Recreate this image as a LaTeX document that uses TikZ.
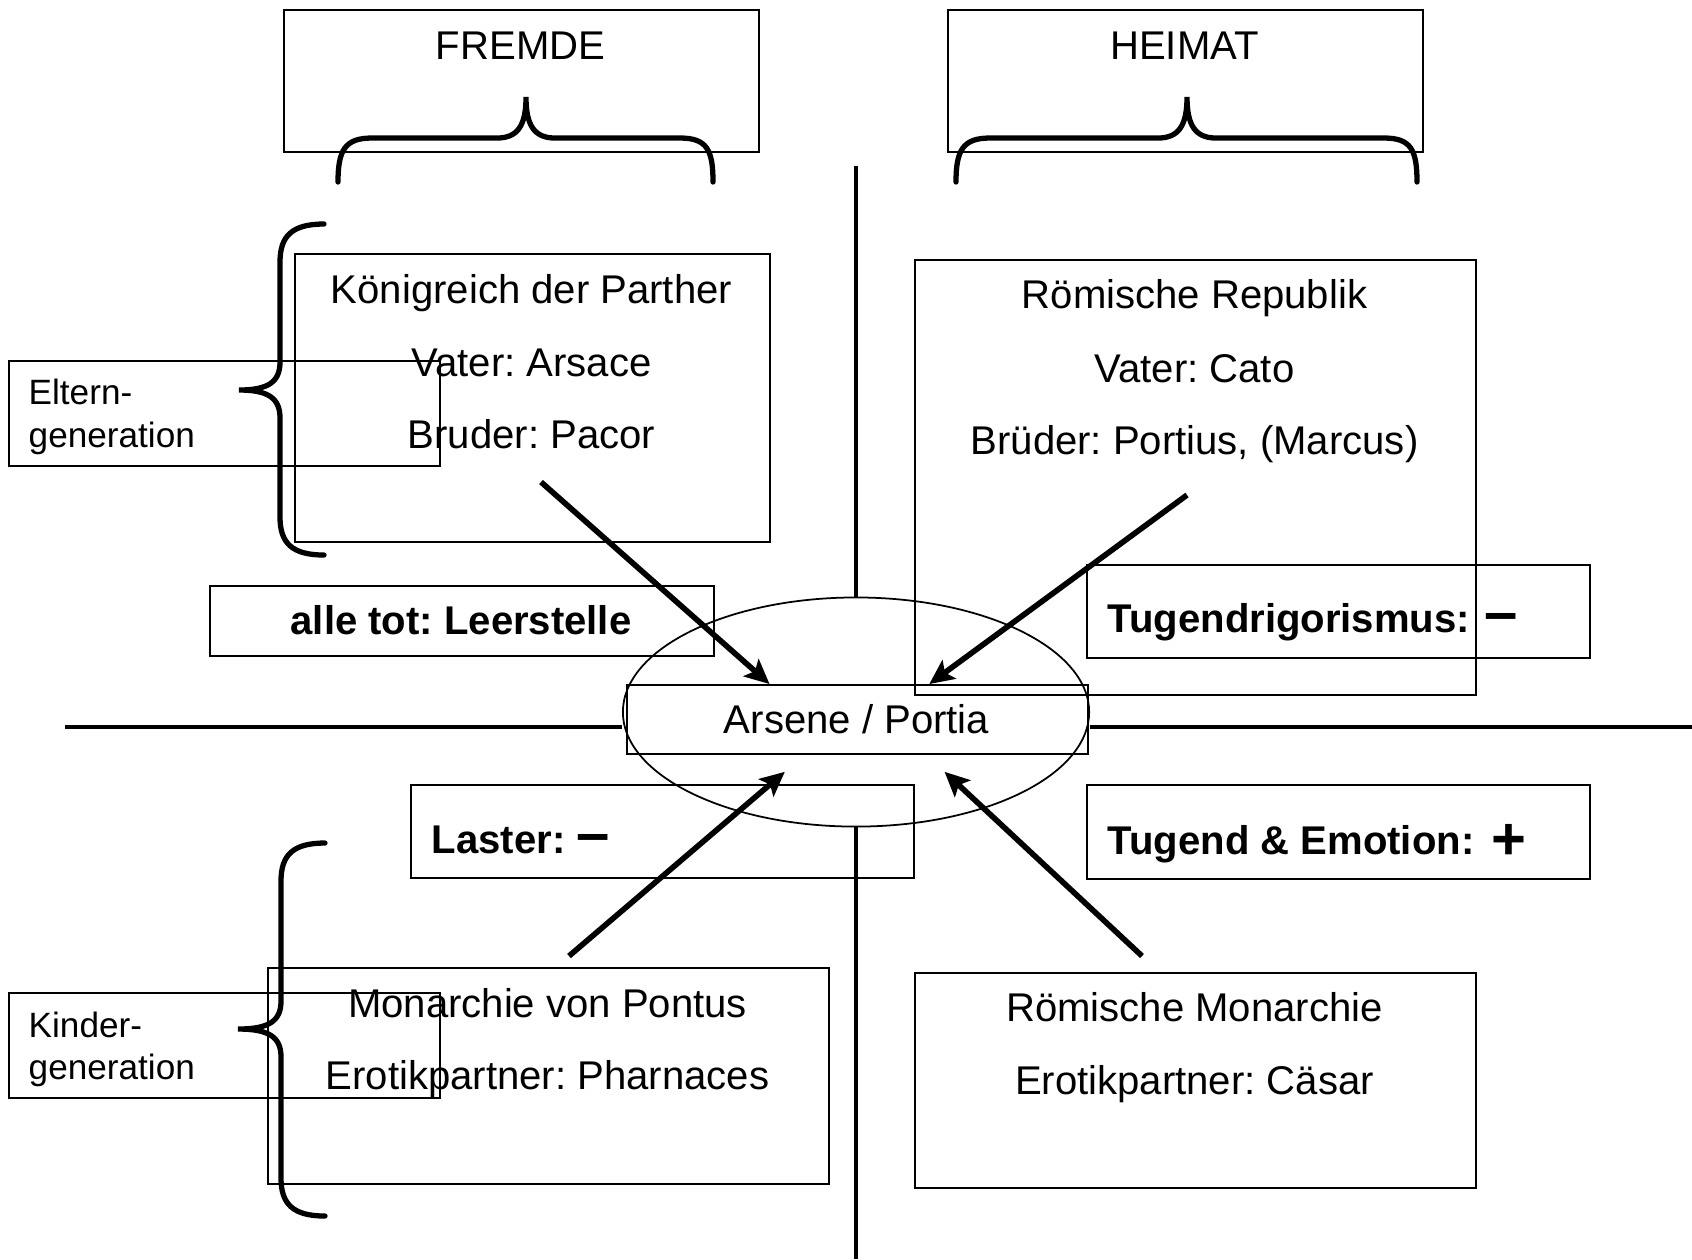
\documentclass[tikz,border=0pt]{standalone}
\usepackage{fontspec}
\setmainfont{Liberation Sans}
\usepackage{tikz}
\usetikzlibrary{shapes.geometric, arrows.meta, calc}
\frenchspacing
\newcommand{\normalfnt}{\fontsize{11.4}{13.7}\selectfont}
\newcommand{\smallfnt}{\fontsize{10}{12}\selectfont}
\newcommand{\symfnt}{\fontsize{17}{17}\selectfont}
\tikzset{
textbox/.style={draw, line width=0.5pt, inner sep=0pt, anchor=north west}, % the rectangles
words/.style={font=\normalfnt, inner sep=0pt, anchor=base}, % centred text lines
boldwords/.style={font=\normalfnt\bfseries, inner sep=0pt, anchor=base west}, % bold labels
smallwords/.style={font=\smallfnt, inner sep=0pt, anchor=base west}, % generation labels
axis/.style={line width=0.9pt},
curly/.style={line width=1.5pt, line cap=round},
arrowline/.style={line width=1.6pt, -{Stealth[length=7pt, width=6.5pt, inset=1.5pt]}},
}

\begin{document}
\begin{tikzpicture}[x=0.01cm, y=-0.01cm]
\useasboundingbox (0,0) rectangle (1692,1259);

% headings
\node[textbox, minimum width=4.75cm, minimum height=1.42cm] (fremde) at (283,9) {};
\node[words] (fremdetext) at (520.5,59) {FREMDE};
\node[textbox, minimum width=4.75cm, minimum height=1.42cm] (heimat) at (947,9) {};
\node[words] (heimattext) at (1184.5,59) {HEIMAT};
\draw[curly] (338,182) .. controls (338,150) and (345,138) .. (372,138) -- (497,138)
    .. controls (518,138) and (526,125) .. (526,97) .. controls (526,125) and (534,138) .. (555,138)
    -- (680,138) .. controls (707,138) and (713,150) .. (713,182);
\draw[curly] (956,182) .. controls (956,150) and (963,138) .. (990,138) -- (1158,138)
    .. controls (1179,138) and (1187,125) .. (1187,97) .. controls (1187,125) and (1195,138) .. (1216,138)
    -- (1384,138) .. controls (1411,138) and (1417,150) .. (1417,182);

% centre
\node[ellipse, draw, line width=0.5pt, minimum width=4.66cm, minimum height=2.29cm, inner sep=0pt] (ell) at (856,712) {};
\node[textbox, minimum width=4.61cm, minimum height=0.69cm] (arsene) at (626,684) {};
\node[words] (arsenetext) at (856.5,733) {Arsene / Portia};

% axes
\coordinate (hleft) at (65,727);
\coordinate (hright) at (1692,727);
\coordinate (vtop) at (856,166);
\coordinate (vbottom) at (856,1259);
\draw[axis] (hleft) -- (hleft -| ell.west);
\draw[axis] (hright -| ell.east) -- (hright);
\draw[axis] (vtop) -- (ell.north);
\draw[axis] (ell.south) -- (vbottom);

% upper left
\node[textbox, minimum width=4.75cm, minimum height=2.88cm] (kbox) at (294,253) {};
\node[words] (parther) at (531.5,303) {Königreich der Parther};
\node[words] (arsace) at (531.5,376) {Vater: Arsace};
\node[words] (pacor) at (531.5,448) {Bruder: Pacor};
\node[textbox, minimum width=4.31cm, minimum height=1.05cm] (eltern) at (8,360) {};
\node[smallwords] (elterntext) at (28,404) {Eltern-};
\node[smallwords] (elterngen) at (28,447) {generation};
\draw[curly] (324,224) .. controls (292,224) and (280,236) .. (280,262) -- (280,362)
    .. controls (280,382) and (268,390) .. (239,390) .. controls (268,390) and (280,398) .. (280,418)
    -- (280,517) .. controls (280,543) and (292,555) .. (324,555);
\node[textbox, minimum width=5.04cm, minimum height=0.70cm] (tot) at (209,585) {};
\node[boldwords, anchor=base] (leerstelle) at (461,634) {alle tot: Leerstelle};

% upper right
\node[textbox, minimum width=5.61cm, minimum height=4.35cm] (rbox) at (914,259) {};
\node[words] (republik) at (1194.5,308) {Römische Republik};
\node[words] (cato) at (1194.5,382) {Vater: Cato};
\node[words] (portius) at (1194.5,454) {Brüder: Portius, (Marcus)};
\node[textbox, minimum width=5.03cm, minimum height=0.93cm] (rigor) at (1086,564) {};
\node[boldwords] (rigortext) at (1107,632) {Tugendrigorismus: \hspace{0.03cm}{\symfnt –}};

% lower left
\node[textbox, minimum width=5.03cm, minimum height=0.93cm] (laster) at (410,784) {};
\node[boldwords] (lastertext) at (431,853) {Laster: {\symfnt –}};
\node[textbox, minimum width=5.61cm, minimum height=2.16cm] (pbox) at (267,967) {};
\node[words] (pontus) at (547.5,1017) {Monarchie von Pontus};
\node[words] (pharnaces) at (547.5,1089) {Erotikpartner: Pharnaces};
\node[textbox, minimum width=4.31cm, minimum height=1.05cm] (kinder) at (8,992) {};
\node[smallwords] (kindertext) at (28,1037) {Kinder-};
\node[smallwords] (kindergen) at (28,1079) {generation};
\draw[curly] (325,843) .. controls (293,843) and (281,855) .. (281,881) -- (281,1001)
    .. controls (281,1021) and (269,1029) .. (238,1029) .. controls (269,1029) and (281,1037) .. (281,1057)
    -- (281,1178) .. controls (281,1204) and (293,1216) .. (325,1216);

% lower right
\node[textbox, minimum width=5.03cm, minimum height=0.94cm] (emotion) at (1086,784) {};
\node[boldwords] (emotiontext) at (1107,854) {Tugend \& Emotion: \hspace{0.06cm}\raisebox{-0.05cm}{\symfnt +}};
\node[textbox, minimum width=5.61cm, minimum height=2.15cm] (mbox) at (914,972) {};
\node[words] (monarchie) at (1194.5,1021) {Römische Monarchie};
\node[words] (caesar) at (1194.5,1094) {Erotikpartner: Cäsar};

% arrows into the centre
\coordinate (kstart) at (541,482);
\coordinate (rstart) at (1187,495);
\coordinate (pstart) at (569,956);
\coordinate (mstart) at (1142,956);
\draw[arrowline] (kstart) -- ($(arsene.north west)!0.31!(arsene.north east)$);
\draw[arrowline] (rstart) -- ($(arsene.north west)!0.655!(arsene.north east)$);
\draw[arrowline] (pstart) -- ($(arsene.south west)!0.343!(arsene.south east)+(0,17)$);
\draw[arrowline] (mstart) -- ($(arsene.south west)!0.688!(arsene.south east)+(0,17)$);
\end{tikzpicture}
\end{document}
